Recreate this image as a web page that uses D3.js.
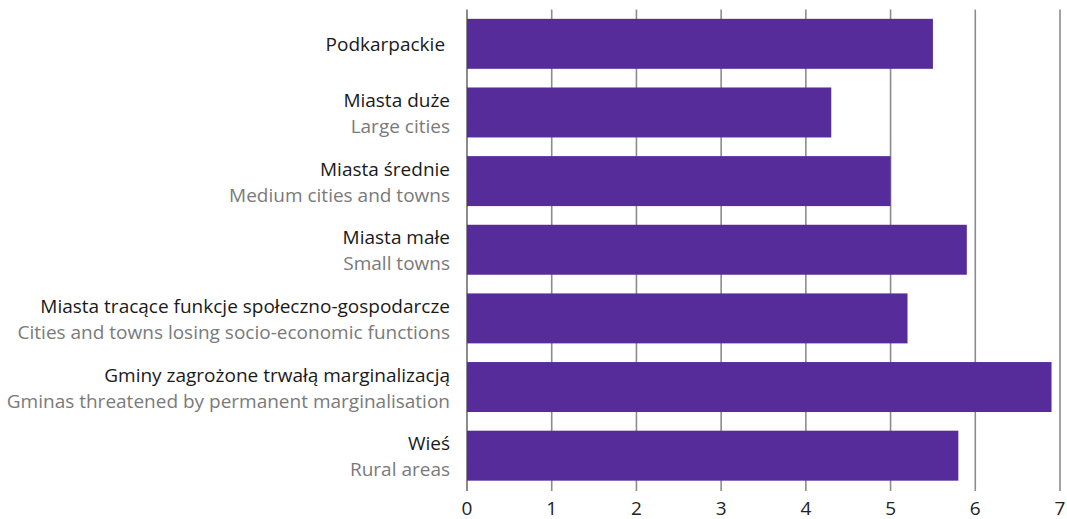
<!DOCTYPE html>
<html>
<head>
<meta charset="utf-8">
<script src="https://cdn.jsdelivr.net/npm/d3@7"></script>
<style>
  body { margin: 0; background: #fff; }
  text { font-family: "Open Sans", "Noto Sans", sans-serif; }
</style>
</head>
<body>
<div id="chart"></div>
<script>
// categories (Polish / English) and values
const labelsPl = ["Podkarpackie ", "Miasta duże", "Miasta średnie", "Miasta małe",
  "Miasta tracące funkcje społeczno-gospodarcze", "Gminy zagrożone trwałą marginalizacją", "Wieś"];
const labelsEn = ["", "Large cities", "Medium cities and towns", "Small towns",
  "Cities and towns losing socio-economic functions", "Gminas threatened by permanent marginalisation", "Rural areas"];
const values = [5.5, 4.3, 5.0, 5.9, 5.2, 6.9, 5.8];
const ticks = [0, 1, 2, 3, 4, 5, 6, 7];

const W = 1067, H = 519;
const margin = { top: 9.5, right: 7, bottom: 29, left: 467 };
const width = W - margin.left - margin.right;
const height = H - margin.top - margin.bottom;

const svg = d3.select('#chart').append('svg')
    .attr('width', W)
    .attr('height', H)
  .append('g')
    .attr('transform', `translate(${margin.left},${margin.top})`);

const x = d3.scaleLinear().domain([0, 7]).range([0, width]);
const y = d3.scaleBand()
    .domain(d3.range(values.length))
    .range([0, height])
    .paddingInner(0.272)
    .paddingOuter(0.136);

// vertical gridlines (including the zero axis)
svg.selectAll('.grid')
    .data(ticks)
  .enter().append('line')
    .attr('x1', d => x(d))
    .attr('x2', d => x(d))
    .attr('y1', 0)
    .attr('y2', height + 1)
    .attr('stroke', d => d === 0 ? '#6e6e6e' : '#8c8c8c')
    .attr('stroke-width', 1.6);

// bars
svg.selectAll('.bar')
    .data(values)
  .enter().append('rect')
    .attr('x', 0)
    .attr('y', (d, i) => y(i))
    .attr('width', d => x(d))
    .attr('height', y.bandwidth())
    .attr('fill', '#552c9a');

// x tick labels
svg.selectAll('.tick-label')
    .data(ticks)
  .enter().append('text')
    .attr('x', d => x(d))
    .attr('y', height + 25)
    .attr('text-anchor', 'middle')
    .attr('font-size', 19)
    .attr('fill', '#222')
    .text(d => d);

// category labels
const lab = svg.selectAll('.cat')
    .data(values)
  .enter().append('g')
    .attr('transform', (d, i) => `translate(-17,${y(i) + y.bandwidth() / 2})`);

lab.append('text')
    .attr('text-anchor', 'end')
    .attr('y', (d, i) => labelsEn[i] ? -5.5 : 7)
    .attr('font-size', 19)
    .attr('fill', '#1a1a1a')
    .style('white-space', 'pre')
    .text((d, i) => labelsPl[i]);

lab.append('text')
    .attr('text-anchor', 'end')
    .attr('y', 20.5)
    .attr('font-size', 19)
    .attr('fill', '#7a7a7a')
    .text((d, i) => labelsEn[i]);
</script>
</body>
</html>
